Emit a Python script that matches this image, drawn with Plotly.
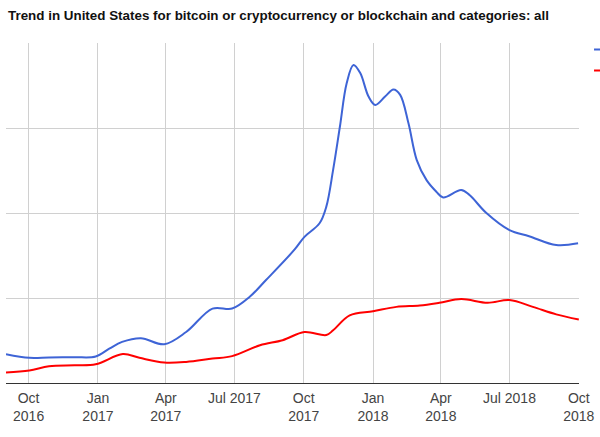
# Google Trends style chart - bitcoin / crypto interest in the US

import plotly.graph_objs as go

title = 'Trend in United States for bitcoin or cryptocurrency or blockchain and categories: all'

# blue series (0-100 scale)
blue_dates = ['2016-09-01', '2016-10-02', '2016-10-28', '2016-12-01', '2016-12-29',
              '2017-01-16', '2017-02-02', '2017-02-27', '2017-03-30', '2017-04-28',
              '2017-06-02', '2017-06-28', '2017-07-21', '2017-08-12', '2017-09-19',
              '2017-10-02', '2017-10-22', '2017-10-31', '2017-11-09', '2017-11-18',
              '2017-11-27', '2017-12-06', '2017-12-15', '2017-12-26', '2018-01-04',
              '2018-01-17', '2018-01-28', '2018-02-06', '2018-02-17', '2018-02-28',
              '2018-03-13', '2018-03-26', '2018-04-04', '2018-04-28', '2018-05-09',
              '2018-05-31', '2018-07-01', '2018-07-27', '2018-09-01', '2018-09-30']
blue_values = [8.5, 7.4, 7.5, 7.6, 7.8,
               10.1, 12.1, 13.2, 11.4, 15.0,
               21.9, 21.9, 25.3, 30.3, 39.3,
               43.0, 47.0, 51.9, 62.7, 75.4,
               88.2, 93.6, 91.2, 84.3, 81.8,
               84.3, 86.4, 84.8, 76.4, 65.6,
               59.7, 56.3, 54.6, 56.8, 55.3,
               50.1, 45.0, 43.2, 40.6, 41.1]

# red series
red_dates = ['2016-09-01', '2016-10-02', '2016-10-28', '2016-12-01', '2016-12-29',
             '2017-02-03', '2017-02-25', '2017-03-30', '2017-04-28', '2017-06-02',
             '2017-06-28', '2017-08-04', '2017-09-03', '2017-10-02', '2017-10-31',
             '2017-11-09', '2017-12-01', '2018-01-01', '2018-02-01', '2018-03-04',
             '2018-03-30', '2018-04-28', '2018-06-02', '2018-07-01', '2018-08-01',
             '2018-09-01', '2018-10-01']
red_values = [3.1, 3.7, 4.9, 5.2, 5.5,
              8.5, 7.4, 6.0, 6.2, 7.2,
              7.9, 11.1, 12.6, 15.0, 14.1,
              15.5, 19.9, 21.1, 22.4, 22.8,
              23.6, 24.7, 23.6, 24.4, 22.4,
              20.2, 18.7]

series_names = ['bitcoin', 'cryptocurrency']

tick_dates = ['2016-10-01', '2017-01-01', '2017-04-01', '2017-07-01', '2017-10-01',
              '2018-01-01', '2018-04-01', '2018-07-01', '2018-10-01']
tick_labels = ['Oct<br>2016', 'Jan<br>2017', 'Apr<br>2017', 'Jul 2017', 'Oct<br>2017',
               'Jan<br>2018', 'Apr<br>2018', 'Jul 2018', 'Oct<br>2018']

font_family = 'Liberation Sans, Arial, sans-serif'

fig = go.Figure()

fig.add_trace(go.Scatter(
    x=blue_dates, y=blue_values, name=series_names[0],
    mode='lines', line=dict(color='#3e64d6', width=2, shape='spline')
))
fig.add_trace(go.Scatter(
    x=red_dates, y=red_values, name=series_names[1],
    mode='lines', line=dict(color='#ff0000', width=2, shape='spline')
))

fig.update_layout(
    width=600, height=437,
    margin=dict(l=6, r=21, t=43, b=54, autoexpand=False),
    paper_bgcolor='white', plot_bgcolor='white',
    font=dict(family=font_family, size=14, color='#444'),
    title=dict(text='<b>' + title + '</b>',
               x=8/600, xref='container', xanchor='left',
               y=1 - 15.5/437, yref='container', yanchor='middle',
               font=dict(size=13.4, color='#111')),
    showlegend=True,
    legend=dict(x=1.0175, xanchor='left', y=1.027, yanchor='top',
                font=dict(size=14), bgcolor='rgba(0,0,0,0)'),
)

fig.update_xaxes(
    range=['2016-09-01', '2018-10-01 06:00'],
    tickmode='array', tickvals=tick_dates, ticktext=tick_labels,
    showgrid=True, gridcolor='#d0d0d0', gridwidth=1,
    showline=True, linecolor='#333', linewidth=1,
    ticks='', tickfont=dict(size=14, color='#444'),
    ticklabelstandoff=2,
    zeroline=False,
)
fig.update_yaxes(
    range=[0, 100.05], dtick=25,
    showgrid=True, gridcolor='#d0d0d0', gridwidth=1,
    showticklabels=False, zeroline=False, showline=False,
)

# page has a default 8px body margin, drop it so the figure sits at 0,0
fig.write_html('out.html', config={'displayModeBar': False},
               post_script="document.body.style.margin='0';")
